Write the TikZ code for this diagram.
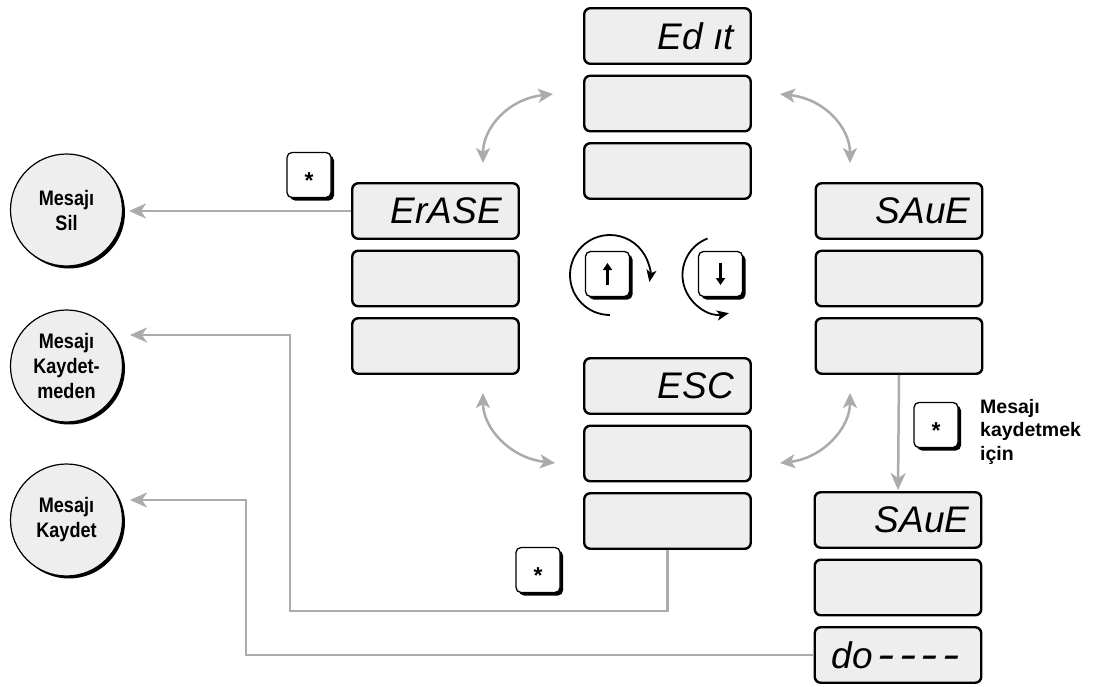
\documentclass[tikz,border=0pt]{standalone}
\usepackage{fontspec}
\setmainfont{Liberation Sans}
\newfontfamily\circfont{Liberation Sans}[FakeStretch=0.86]
\usetikzlibrary{arrows.meta,shadows,calc}
\definecolor{lcd}{HTML}{EEEEEE}
\definecolor{connc}{HTML}{ABABAB}
\newcommand\lcddash{\kern4.5pt\scalebox{1.4}[1.1]{-}}
\begin{document}
\begin{tikzpicture}[x=1pt,y=-1pt,
  disp/.style={draw, line width=2.4pt, fill=lcd, rounded corners=6pt,
    minimum width=166.5pt, minimum height=55.5pt, inner sep=0pt},
  lcdtxt/.style={font=\fontsize{37}{37}\selectfont\itshape, inner sep=0pt, anchor=east},
  keybox/.style={draw, line width=1.3pt, fill=white, rounded corners=5pt,
    minimum width=44pt, minimum height=45pt, inner sep=0pt,
    drop shadow={shadow xshift=3pt, shadow yshift=-3pt, fill=black, opacity=1},
    font=\bfseries\fontsize{23}{23}\selectfont, text height=27pt, text depth=0pt},
  outc/.style={circle, draw, line width=1.2pt, fill=lcd, minimum size=112pt,
    inner sep=0pt, align=center, font=\circfont\bfseries\fontsize{21}{25}\selectfont,
    drop shadow={shadow xshift=2.5pt, shadow yshift=-2.5pt, fill=black, opacity=1}},
  conn/.style={draw=connc, line width=2.5pt},
  tip/.style={-{Stealth[length=17pt,width=15pt,inset=5pt]}},
  dbl/.style={conn, {Stealth[length=15pt,width=14pt,inset=4pt]}-{Stealth[length=15pt,width=14pt,inset=4pt]}},
  rot/.style={draw=black, line width=1.8pt, -{Stealth[length=12pt,width=10pt,inset=3pt]}},
  keyarrow/.style={draw=black, line width=3pt, -{Triangle[length=7pt,width=9pt]}},
]
\fill[white] (0,0) rectangle (1117,686);
\useasboundingbox (0,0) rectangle (1117,686);

% display columns
\node[disp] (t1) at (667.5,36) {};
\node[disp] (t2) at (667.5,103.5) {};
\node[disp] (t3) at (667.5,171) {};
\node[disp] (l1) at (435.5,211) {};
\node[disp] (l2) at (435.5,278.5) {};
\node[disp] (l3) at (435.5,346) {};
\node[disp] (r1) at (899,211) {};
\node[disp] (r2) at (899,278.5) {};
\node[disp] (r3) at (899,346) {};
\node[disp] (e1) at (667.5,386) {};
\node[disp] (e2) at (667.5,453.5) {};
\node[disp] (e3) at (667.5,521) {};
\node[disp] (s1) at (898,520) {};
\node[disp] (s2) at (898,587.5) {};
\node[disp] (s3) at (898,655) {};

% display texts
\node[lcdtxt] (t1txt) at ($(t1.east)+(-18,0)$) {Ed ıt};
\node[lcdtxt] (l1txt) at ($(l1.east)+(-18,0)$) {ErASE};
\node[lcdtxt] (r1txt) at ($(r1.east)+(-13,0)$) {SAuE};
\node[lcdtxt] (e1txt) at ($(e1.east)+(-18,0)$) {ESC};
\node[lcdtxt] (s1txt) at ($(s1.east)+(-13,0)$) {SAuE};
\node[lcdtxt, anchor=west] (s3txt) at ($(s3.west)+(18,0)$) {do\lcddash\lcddash\lcddash\lcddash};

% outcome circles
\node[outc] (c1) at (66.5,210) {Mesajı\\Sil};
\node[outc] (c2) at (66.5,366) {Mesajı\\Kaydet-\\meden};
\node[outc] (c3) at (66.5,520) {Mesajı\\Kaydet};

% keys
\node[keybox] (k1) at (309,175) {*};
\node[keybox] (k2) at (538,570) {*};
\node[keybox] (k3) at (936,425) {*};
\node[keybox] (kup) at (607.5,274) {};
\node[keybox] (kdn) at (720.5,274) {};
\draw[keyarrow] ($(kup.center)+(0,11)$) -- ($(kup.center)+(0,-11)$);
\draw[keyarrow] ($(kdn.center)+(0,-11)$) -- ($(kdn.center)+(0,11)$);

% rotation arrows
\coordinate (rup) at (610,315);
\coordinate (rdn) at (707.5,238.5);
\draw[rot] (rup) arc[start angle=270, end angle=-10, radius=40pt];
\draw[rot] (rdn) arc[start angle=111, end angle=281, radius=39pt];

% note text
\node[anchor=north west, align=left, inner sep=0pt,
  font=\bfseries\fontsize{19.5}{23.5}\selectfont] (note) at (980,399) {Mesajı\\kaydetmek\\için};

% connectors
\coordinate (a1) at (129,211);
\coordinate (a2) at (130,335);
\coordinate (a3) at (130,500);
\coordinate (b1) at (290,611);
\coordinate (b2) at (246,500);
\draw[conn, tip] (l1.west) -- (a1);
\draw[conn, tip] (e3.south) |- (b1) |- (a2);
\draw[conn, tip] (s3.west) -| (b2) -- (a3);
\draw[conn, tip, shorten >=1pt] (r3.south) -- (s1.north);

% double arrows
\coordinate (tla) at (553,94);
\coordinate (tlb) at (483,163);
\coordinate (tra) at (780,94);
\coordinate (trb) at (850,163);
\coordinate (bla) at (483,393);
\coordinate (blb) at (555,463);
\coordinate (bra) at (850,393);
\coordinate (brb) at (780,463);
\draw[dbl] (tla) .. controls (508,99) and (483,128) .. (tlb);
\draw[dbl] (tra) .. controls (825,99) and (850,128) .. (trb);
\draw[dbl] (bla) .. controls (483,428) and (510,458) .. (blb);
\draw[dbl] (bra) .. controls (850,428) and (823,458) .. (brb);
\end{tikzpicture}
\end{document}
